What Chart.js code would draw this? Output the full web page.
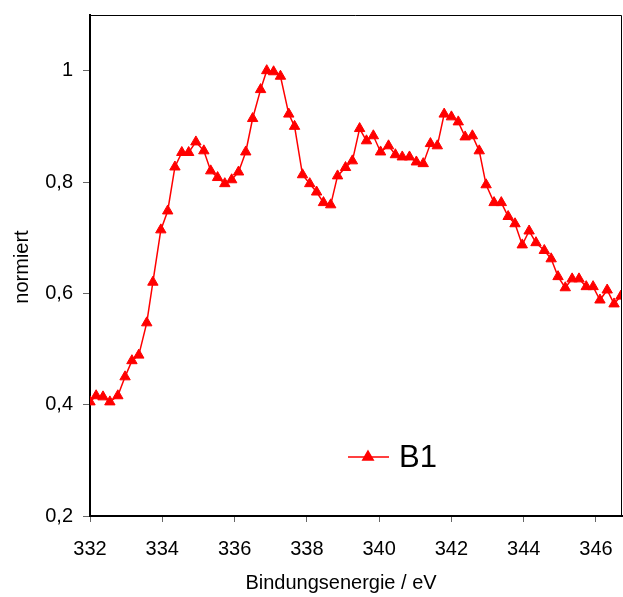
<!DOCTYPE html>
<html>
<head>
<meta charset="utf-8">
<script src="https://cdn.jsdelivr.net/npm/chart.js@4/dist/chart.umd.min.js"></script>
<style>
  html, body { margin: 0; padding: 0; background: #fff; }
  #wrap { width: 623px; height: 597px; }
</style>
</head>
<body>
<div id="wrap"><canvas id="chart" width="623" height="597"></canvas></div>
<script>
const energy = [
  332.0, 332.17, 332.36, 332.55, 332.77, 332.97, 333.16, 333.35, 333.57, 333.74,
  333.96, 334.15, 334.35, 334.54, 334.73, 334.93, 335.15, 335.34, 335.53, 335.73,
  335.92, 336.11, 336.31, 336.5, 336.72, 336.89, 337.08, 337.27, 337.5, 337.66,
  337.88, 338.08, 338.27, 338.46, 338.66, 338.85, 339.07, 339.26, 339.46, 339.65,
  339.84, 340.04, 340.26, 340.45, 340.64, 340.84, 341.03, 341.22, 341.42, 341.61,
  341.8, 342.0, 342.19, 342.38, 342.58, 342.77, 342.96, 343.18, 343.38, 343.57,
  343.76, 343.96, 344.15, 344.34, 344.57, 344.76, 344.95, 345.15, 345.34, 345.53,
  345.73, 345.92, 346.11, 346.31, 346.5, 346.69,
];

const b1 = [
  0.405, 0.416, 0.414, 0.405, 0.416, 0.45, 0.479, 0.489, 0.547, 0.62,
  0.714, 0.748, 0.827, 0.853, 0.853, 0.872, 0.856, 0.82, 0.808, 0.797,
  0.804, 0.818, 0.854, 0.914, 0.966, 1.0, 0.998, 0.99, 0.922, 0.9,
  0.813, 0.797, 0.782, 0.763, 0.759, 0.811, 0.826, 0.838, 0.896, 0.874,
  0.883, 0.854, 0.865, 0.849, 0.845, 0.845, 0.836, 0.833, 0.869, 0.865,
  0.922, 0.917, 0.908, 0.881, 0.883, 0.856, 0.795, 0.763, 0.763, 0.738,
  0.725, 0.687, 0.712, 0.691, 0.677, 0.662, 0.63, 0.61, 0.626, 0.626,
  0.612, 0.612, 0.588, 0.606, 0.581, 0.595,
];

const xTicks = [332, 334, 336, 338, 340, 342, 344, 346];
const yTicks = [0.2, 0.4, 0.6, 0.8, 1];

const seriesLabel = 'B1';
const xTitle = 'Bindungsenergie / eV';
const yTitle = 'normiert';

const red = '#ff0000';
const font = 'Liberation Sans, Arial, sans-serif';

// frame, axis titles and the legend box inside the plot
const decorations = {
  id: 'decorations',
  afterDraw: (chart) => {
    const { ctx, chartArea: a } = chart;
    ctx.save();
    ctx.strokeStyle = '#000';
    ctx.lineWidth = 1;
    ctx.beginPath();
    ctx.moveTo(a.left, a.top + 0.5);
    ctx.lineTo(a.right - 0.5, a.top + 0.5);
    ctx.lineTo(a.right - 0.5, a.bottom);
    ctx.stroke();

    ctx.fillStyle = '#000';
    ctx.font = `20px ${font}`;
    ctx.textAlign = 'center';
    ctx.textBaseline = 'middle';
    ctx.fillText(xTitle, 341, 583);

    ctx.translate(22, 267);
    ctx.rotate(-Math.PI / 2);
    ctx.fillText(yTitle, 0, 0);
    ctx.restore();

    // legend
    ctx.save();
    const ly = 457;
    ctx.strokeStyle = red;
    ctx.fillStyle = red;
    ctx.lineWidth = 1.5;
    ctx.beginPath();
    ctx.moveTo(348, ly);
    ctx.lineTo(389, ly);
    ctx.stroke();
    Chart.helpers.drawPoint(ctx, { pointStyle: 'triangle', radius: 6, borderWidth: 1 }, 368, ly);
    ctx.fillStyle = '#000';
    ctx.font = `31px ${font}`;
    ctx.textAlign = 'left';
    ctx.textBaseline = 'middle';
    ctx.fillText(seriesLabel, 399, ly + 1);
    ctx.restore();
  },
};

const fmt = (v) => String(v).replace('.', ',');

new Chart(document.getElementById('chart'), {
  type: 'line',
  data: {
    datasets: [{
      label: seriesLabel,
      data: energy.map((x, i) => ({ x, y: b1[i] })),
      borderColor: red,
      backgroundColor: red,
      borderWidth: 1.5,
      pointStyle: 'triangle',
      pointRadius: 6,
      pointBorderWidth: 1,
      pointBackgroundColor: red,
      pointBorderColor: red,
      tension: 0,
    }],
  },
  options: {
    responsive: false,
    animation: false,
    layout: { autoPadding: false, padding: { top: 15, right: 1, left: 0, bottom: 0 } },
    plugins: {
      legend: { display: false },
      tooltip: { enabled: false },
    },
    scales: {
      x: {
        type: 'linear',
        min: 332,
        max: 346.72,
        afterBuildTicks: (scale) => { scale.ticks = xTicks.map((value) => ({ value })); },
        afterFit: (scale) => {
          scale.height = 81;
          scale.paddingLeft = 0;
          scale.paddingRight = 0;
        },
        grid: { display: true, drawOnChartArea: false, drawTicks: true, tickLength: 6, color: '#666', lineWidth: 1 },
        border: { display: true, color: '#000', width: 2 },
        ticks: { color: '#000', font: { size: 20, family: font }, padding: 15, maxRotation: 0 },
      },
      y: {
        type: 'linear',
        min: 0.2,
        max: 1.1,
        afterBuildTicks: (scale) => { scale.ticks = yTicks.map((value) => ({ value })); },
        afterFit: (scale) => {
          scale.width = 90;
          scale.paddingTop = 0;
          scale.paddingBottom = 0;
        },
        grid: { display: true, drawOnChartArea: false, drawTicks: true, tickLength: 7, color: '#666', lineWidth: 1 },
        border: { display: true, color: '#000', width: 2 },
        ticks: { color: '#000', font: { size: 20, family: font }, padding: 10, callback: (v) => fmt(v) },
      },
    },
  },
  plugins: [decorations],
});
</script>
</body>
</html>
